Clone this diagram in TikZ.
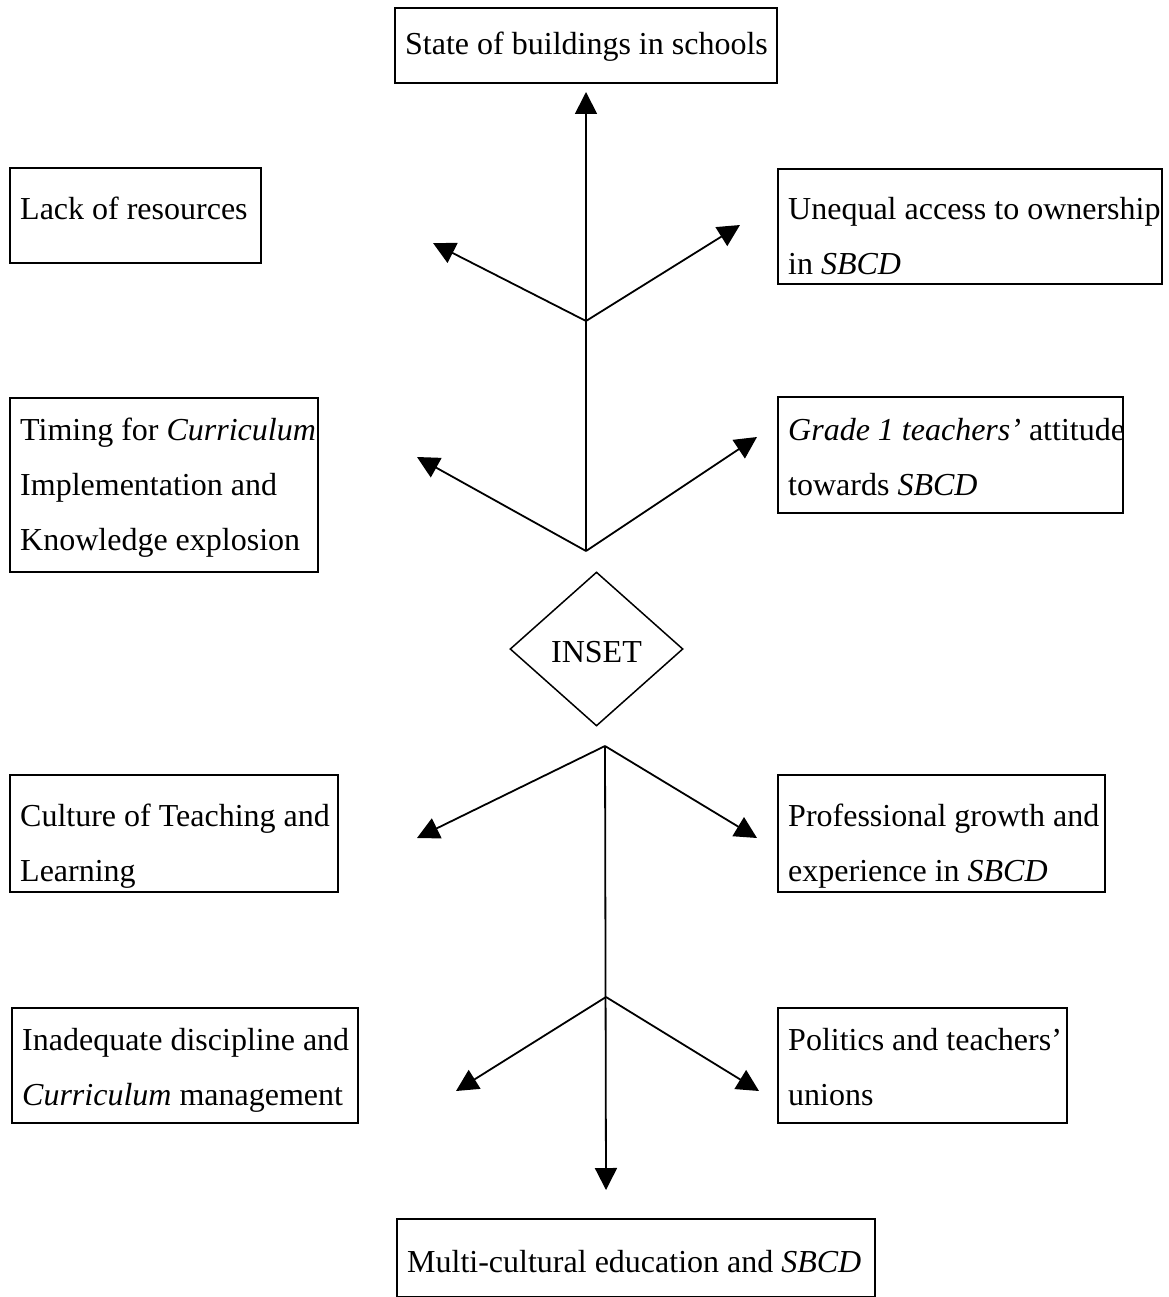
\documentclass[tikz,border=0pt]{standalone}
\usepackage{fontspec}
\setmainfont{Liberation Serif}
\usetikzlibrary{arrows.meta,shapes.geometric}
\begin{document}
\begin{tikzpicture}[x=1pt,y=-1pt,
  box/.style={draw, line width=1.3pt, rectangle, inner sep=0pt, outer sep=0pt, anchor=north west},
  txt/.style={inner sep=0pt, anchor=base west, font=\fontsize{32}{38}\selectfont},
  conn/.style={line width=1.8pt},
  arr/.style={conn, -{Triangle[length=22pt,width=22pt]}}]
\useasboundingbox (0,0) rectangle (1168,1297);
\fill[white] (0,0) rectangle (1168,1297);

% boxes
\node[box, minimum width=382pt, minimum height=75pt] (top) at (395,8) {};
\node[box, minimum width=251pt, minimum height=95pt] (lack) at (10,168) {};
\node[box, minimum width=384pt, minimum height=115pt] (uneq) at (778,169) {};
\node[box, minimum width=308pt, minimum height=174pt] (timing) at (10,398) {};
\node[box, minimum width=345pt, minimum height=116pt] (grade) at (778,397) {};
\node[box, minimum width=328pt, minimum height=117pt] (culture) at (10,775) {};
\node[box, minimum width=327pt, minimum height=117pt] (prof) at (778,775) {};
\node[box, minimum width=346pt, minimum height=115pt] (inad) at (12,1008) {};
\node[box, minimum width=289pt, minimum height=115pt] (pol) at (778,1008) {};
\node[box, minimum width=478pt, minimum height=78pt] (multi) at (397,1219) {};

% diamond
\node[draw, line width=1.5pt, diamond, aspect=1.12, inner sep=0pt, minimum width=173pt, minimum height=154pt] (inset) at (596.5,649) {};
\node[txt, anchor=base] (insettxt) at (596.5,662) {INSET};

% texts
\node[txt] (t1) at (405,55) {State of buildings in schools};
\node[txt] (l1) at (20,220) {Lack of resources};
\node[txt] (u1) at (788,220) {Unequal access to ownership};
\node[txt] (u2) at (788,274) {in \textit{SBCD}};
\node[txt] (ti1) at (20,440) {Timing for \textit{Curriculum}};
\node[txt] (ti2) at (20,495) {Implementation and};
\node[txt] (ti3) at (20,550) {Knowledge explosion};
\node[txt] (g1) at (788,440) {\textit{Grade 1 teachers’} attitude};
\node[txt] (g2) at (788,495) {towards \textit{SBCD}};
\node[txt] (c1) at (20,826) {Culture of Teaching and};
\node[txt] (c2) at (20,881) {Learning};
\node[txt] (p1) at (788,826) {Professional growth and};
\node[txt] (p2) at (788,881) {experience in \textit{SBCD}};
\node[txt] (i1) at (22,1050) {Inadequate discipline and};
\node[txt] (i2) at (22,1105) {\textit{Curriculum} management};
\node[txt] (po1) at (788,1050) {Politics and teachers’};
\node[txt] (po2) at (788,1105) {unions};
\node[txt] (m1) at (407,1272) {Multi-cultural education and \textit{SBCD}};

% fork points and tips
\coordinate (f1) at (586,321);
\coordinate (f2) at (586,551);
\coordinate (f3) at (605,746);
\coordinate (f4) at (606,997);
\coordinate (topTip) at (586,92);
\coordinate (botTip) at (606,1190);
\coordinate (a1l) at (433,243);
\coordinate (a1r) at (740,225);
\coordinate (a2l) at (417,457);
\coordinate (a2r) at (757,437);
\coordinate (a3l) at (417,838);
\coordinate (a3r) at (757,838);
\coordinate (a4l) at (456,1091);
\coordinate (a4r) at (759,1091);

% connectors
\draw[arr] (f2) -- (topTip);
\draw[arr] (f1) -- (a1l);
\draw[arr] (f1) -- (a1r);
\draw[arr] (f2) -- (a2l);
\draw[arr] (f2) -- (a2r);
\draw[arr] (f3) -- (botTip);
\draw[arr] (f3) -- (a3l);
\draw[arr] (f3) -- (a3r);
\draw[arr] (f4) -- (a4l);
\draw[arr] (f4) -- (a4r);
\end{tikzpicture}
\end{document}
